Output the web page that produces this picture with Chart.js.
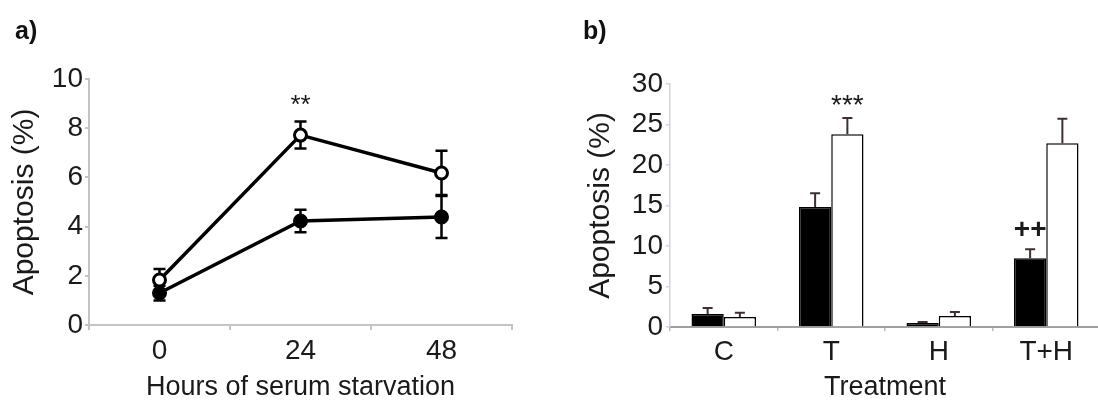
<!DOCTYPE html>
<html>
<head>
<meta charset="utf-8">
<script src="https://cdn.jsdelivr.net/npm/chart.js@4.4.0/dist/chart.umd.min.js"></script>
<style>
html,body{margin:0;padding:0;background:#fff;overflow:hidden;width:1098px;height:405px}
#wrap{position:relative;width:1098px;height:405px;overflow:hidden}
#ca{position:absolute;left:0;top:0}
#cb{position:absolute;left:549px;top:0}
.tag{position:absolute;top:16px;font:bold 25px "Liberation Sans",Arial,sans-serif;color:#111}
</style>
</head>
<body>
<div id="wrap">
<canvas id="ca" width="549" height="405"></canvas>
<canvas id="cb" width="560" height="405"></canvas>
<div class="tag" style="left:15px">a)</div>
<div class="tag" style="left:583px">b)</div>
</div>
<script>
// panel a - time course
var hours = ['0', '24', '48'];
var openA = [1.83, 7.72, 6.18];
var openErrA = [0.45, 0.55, 0.9];
var fillA = [1.3, 4.23, 4.39];
var fillErrA = [0.3, 0.46, 0.85];
var yTicksA = [0, 2, 4, 6, 8, 10];

// panel b - treatment
var treat = ['C', 'T', 'H', 'T+H'];
var blackB = [1.6, 14.8, 0.5, 8.5];
var blackErrB = [0.75, 1.7, 0.12, 1.1];
var whiteB = [1.25, 23.8, 1.35, 22.7];
var whiteErrB = [0.5, 2.0, 0.5, 3.0];
var yTicksB = [0, 5, 10, 15, 20, 25, 30];

// significance marks (dataset, index, value)
var noteA = [{text: '**', ds: 0, i: 1, v: 8.9}];
var noteB = [{text: '***', ds: 1, i: 1, v: 27.3}, {text: '++', ds: 0, i: 3, v: 11.9, bold: true}];

var FONT = '"Liberation Sans", Arial, sans-serif';
var INK = '#1a1a1a';
Chart.defaults.font.family = FONT;

function errPlugin(errs, o) {
	var p = {id: 'errbars'};
	p[o.hook] = function(chart) {
		var ctx = chart.ctx, y = chart.scales.y;
		ctx.save();
		ctx.strokeStyle = o.color;
		ctx.lineWidth = o.width;
		errs.forEach(function(e, d) {
			chart.getDatasetMeta(d).data.forEach(function(el, i) {
				var v = chart.data.datasets[d].data[i];
				var top = y.getPixelForValue(v + e[i]);
				var bot = o.both ? y.getPixelForValue(v - e[i]) : el.y;
				ctx.beginPath();
				ctx.moveTo(el.x, bot); ctx.lineTo(el.x, top);
				ctx.moveTo(el.x - o.cap / 2, top); ctx.lineTo(el.x + o.cap / 2, top);
				if (o.both) { ctx.moveTo(el.x - o.cap / 2, bot); ctx.lineTo(el.x + o.cap / 2, bot); }
				ctx.stroke();
			});
		});
		ctx.restore();
	};
	return p;
}

function notePlugin(notes, size) {
	return {
		id: 'notes',
		afterDraw: function(chart) {
			var ctx = chart.ctx, y = chart.scales.y;
			ctx.save();
			ctx.fillStyle = INK;
			ctx.textAlign = 'center';
			ctx.textBaseline = 'middle';
			notes.forEach(function(n) {
				var el = chart.getDatasetMeta(n.ds).data[n.i];
				ctx.font = (n.bold ? 'bold ' : '') + size + 'px ' + FONT;
				ctx.fillText(n.text, el.x, y.getPixelForValue(n.v));
			});
			ctx.restore();
		}
	};
}

// extends the category baseline to the page edge
var baseLine = {
	id: 'baseline',
	afterDraw: function(chart) {
		var ctx = chart.ctx, a = chart.chartArea;
		ctx.save();
		ctx.strokeStyle = '#a0a0a0';
		ctx.lineWidth = 2;
		ctx.beginPath();
		ctx.moveTo(a.right, a.bottom + 1);
		ctx.lineTo(chart.width, a.bottom + 1);
		ctx.stroke();
		ctx.restore();
	}
};

new Chart(document.getElementById('ca'), {
	type: 'line',
	data: {
		labels: hours,
		datasets: [
			{data: openA, borderColor: '#000', borderWidth: 3.5, pointRadius: 6, pointBorderWidth: 3,
				pointBackgroundColor: '#fff', pointBorderColor: '#000'},
			{data: fillA, borderColor: '#000', borderWidth: 3.5, pointRadius: 6, pointBorderWidth: 3,
				pointBackgroundColor: '#000', pointBorderColor: '#000'}
		]
	},
	options: {
		responsive: false,
		animation: false,
		layout: {padding: {top: 79, right: 37, bottom: 0, left: 0}},
		plugins: {legend: {display: false}, tooltip: {enabled: false}},
		scales: {
			x: {
				offset: true,
				grid: {offset: true, drawOnChartArea: false, tickLength: 5, color: '#c4c4c4', lineWidth: 2},
				border: {color: '#c4c4c4', width: 2},
				ticks: {font: {size: 28}, color: INK, padding: 4},
				title: {display: true, text: 'Hours of serum starvation', font: {size: 27}, color: INK, padding: {top: 0, bottom: 1}},
				afterFit: function(s) { s.height = 80; }
			},
			y: {
				min: 0, max: 10,
				afterBuildTicks: function(s) { s.ticks = yTicksA.map(function(v) { return {value: v}; }); },
				grid: {drawOnChartArea: false, tickLength: 4, color: '#c4c4c4', lineWidth: 2},
				border: {color: '#c4c4c4', width: 2},
				ticks: {font: {size: 28}, color: INK, padding: 2},
				title: {display: true, text: 'Apoptosis (%)', font: {size: 30}, color: INK, padding: {top: 7, bottom: 0}},
				afterFit: function(s) { s.width = 89; }
			}
		}
	},
	plugins: [errPlugin([openErrA, fillErrA], {hook: 'beforeDatasetsDraw', color: '#000', width: 2.5, cap: 12, both: true}), notePlugin(noteA, 26)]
});

new Chart(document.getElementById('cb'), {
	type: 'bar',
	data: {
		labels: treat,
		datasets: [
			{data: blackB, backgroundColor: '#000', borderColor: '#000', borderWidth: 1.5,
				categoryPercentage: 0.6, barPercentage: 1.0},
			{data: whiteB, backgroundColor: '#fff', borderColor: '#000', borderWidth: 1.5,
				categoryPercentage: 0.6, barPercentage: 1.0}
		]
	},
	options: {
		responsive: false,
		animation: false,
		layout: {padding: {top: 84, right: 9, bottom: 0, left: 0}},
		plugins: {legend: {display: false}, tooltip: {enabled: false}},
		scales: {
			x: {
				grid: {offset: true, drawOnChartArea: false, tickLength: 4, color: '#b8bcc4', lineWidth: 1.5},
				border: {color: '#a0a0a0', width: 2},
				ticks: {font: {size: 28}, color: INK, padding: 4},
				title: {display: true, text: 'Treatment', font: {size: 27}, color: INK, padding: {top: 0, bottom: 1}},
				afterFit: function(s) { s.height = 78; }
			},
			y: {
				min: 0, max: 30,
				afterBuildTicks: function(s) { s.ticks = yTicksB.map(function(v) { return {value: v}; }); },
				grid: {drawOnChartArea: false, tickLength: 4, color: '#d0d5dd', lineWidth: 1.5},
				border: {color: '#d0d5dd', width: 1.5},
				ticks: {font: {size: 28}, color: INK, padding: 3},
				title: {display: true, text: 'Apoptosis (%)', font: {size: 30}, color: INK, padding: {top: 34, bottom: 0}},
				afterFit: function(s) { s.width = 121; }
			}
		}
	},
	plugins: [errPlugin([blackErrB, whiteErrB], {hook: 'afterDatasetsDraw', color: '#3d3030', width: 2, cap: 10, both: false}), notePlugin(noteB, 28), baseLine]
});
</script>
</body>
</html>
